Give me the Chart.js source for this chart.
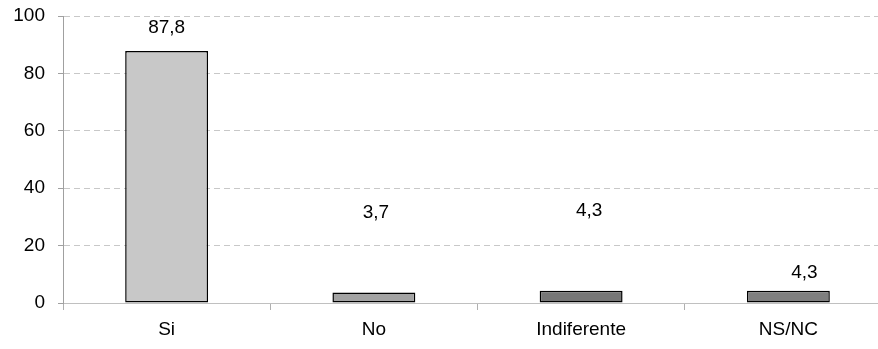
<!DOCTYPE html>
<html>
<head>
<meta charset="utf-8">
<script src="https://cdn.jsdelivr.net/npm/chart.js@4/dist/chart.umd.min.js"></script>
<style>
  html, body { margin: 0; padding: 0; background: #fff; overflow: hidden; }
  #wrap { width: 878px; height: 349px; overflow: hidden; }
  #box { width: 893px; height: 349px; position: relative; }
</style>
</head>
<body>
<div id="wrap"><div id="box"><canvas id="chart"></canvas></div></div>
<script>
// values
const categories = ['Si', 'No', 'Indiferente', 'NS/NC'];
const percentages = [87.8, 3.7, 4.3, 4.3];
const barColors = ['#c8c8c8', '#a3a3a3', '#777777', '#7f7f7f'];
const yTicks = [0, 20, 40, 60, 80, 100];

const FONT = '"Liberation Sans", Arial, sans-serif';

// value labels sit at odd heights in the original, so nudge each one
const valueLabels = {
  id: 'valueLabels',
  afterDatasetsDraw(chart, args, opts) {
    const ctx = chart.ctx;
    const meta = chart.getDatasetMeta(0);
    ctx.save();
    ctx.font = '19px ' + FONT;
    ctx.fillStyle = '#000';
    ctx.textAlign = 'center';
    ctx.textBaseline = 'middle';
    meta.data.forEach((bar, i) => {
      const txt = percentages[i].toFixed(1).replace('.', ',');
      ctx.fillText(txt, bar.x + opts.dx[i], bar.y - opts.lift[i]);
    });
    ctx.restore();
  }
};

new Chart(document.getElementById('chart'), {
  type: 'bar',
  data: {
    labels: categories,
    datasets: [{
      data: percentages,
      backgroundColor: barColors,
      borderColor: '#000',
      borderWidth: 1.5,
      borderSkipped: false,
      categoryPercentage: 1,
      barPercentage: 0.4
    }]
  },
  options: {
    responsive: true,
    maintainAspectRatio: false,
    animation: false,
    layout: { padding: { top: 16, left: 10, right: 1 } },
    plugins: {
      legend: { display: false },
      tooltip: { enabled: false },
      valueLabels: { lift: [23, 80, 80, 18], dx: [0, 2, 8, 16] }
    },
    scales: {
      x: {
        grid: { drawOnChartArea: false, drawTicks: true, tickLength: 7, color: '#b0b0b0' },
        border: { display: true, color: '#c0c0c0', width: 1 },
        ticks: {
          color: '#000',
          padding: 8,
          font: { family: FONT, size: 19 }
        },
        afterFit: s => { s.height = 46; }
      },
      y: {
        min: 0,
        max: 100,
        afterBuildTicks: s => { s.ticks = yTicks.map(v => ({ value: v })); },
        grid: { color: '#c8c8c8', tickLength: 5, tickColor: '#a0a0a0', tickBorderDash: [] },
        border: { display: true, color: '#a0a0a0', width: 1, dash: [6, 4] },
        ticks: {
          color: '#000',
          padding: 13,
          font: { family: FONT, size: 19 }
        },
        afterFit: s => { s.width = 53; s.paddingTop = 0; s.paddingBottom = 0; }
      }
    }
  },
  plugins: [valueLabels]
});
</script>
</body>
</html>
